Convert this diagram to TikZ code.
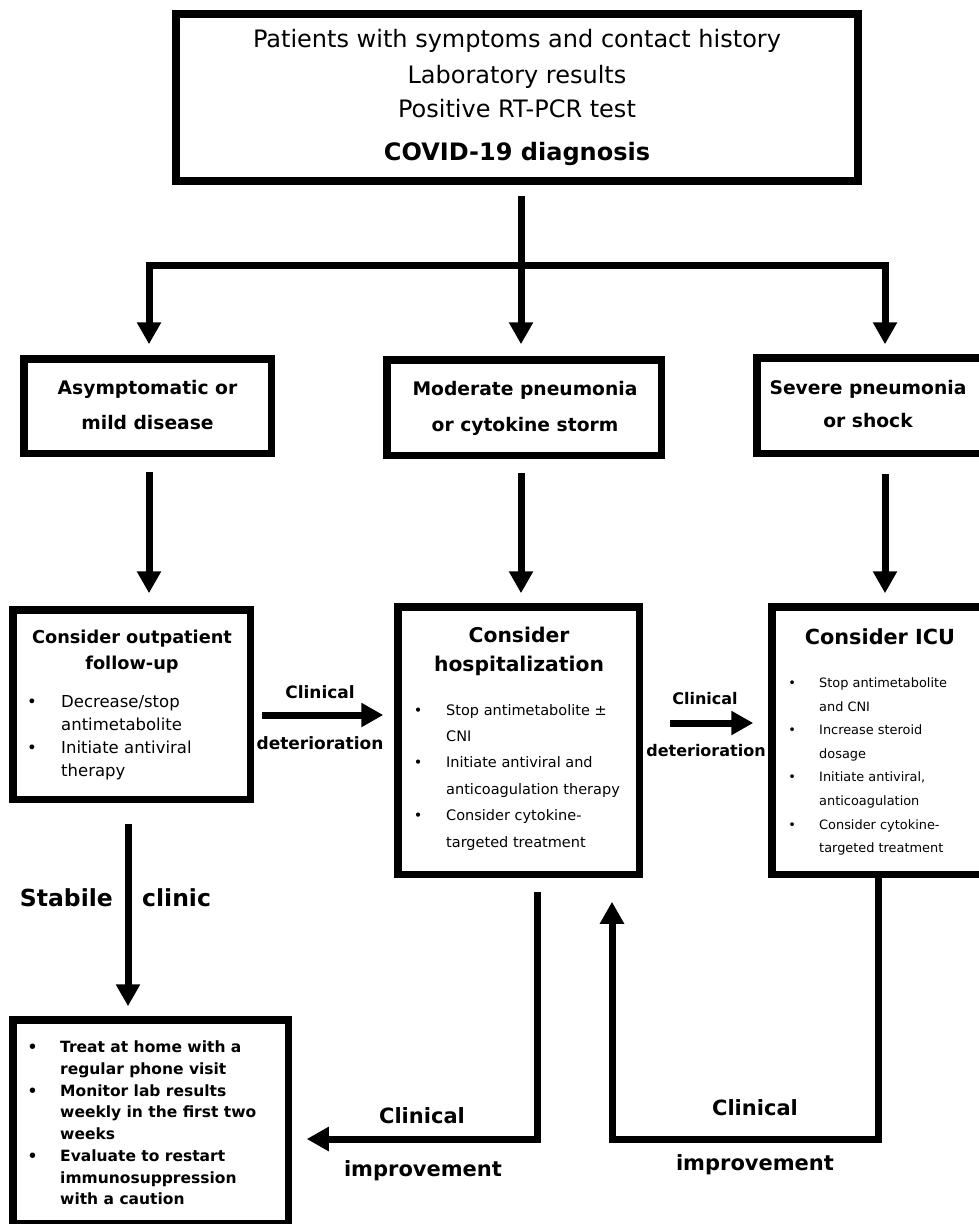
\documentclass[tikz,border=0pt]{standalone}
\usepackage{fontspec}
\setmainfont{DejaVu Sans}
\usetikzlibrary{arrows.meta}
\newcommand\bulx[1]{\llap{\makebox[#1][l]{\textbullet}}}
\newcommand\fs[2]{\fontsize{#1}{#2}\selectfont}
\tikzset{
  box/.style={draw=black, line width=7.5pt, inner sep=0pt},
  tip/.style={-{Triangle[length=22pt,width=23pt]}},
  twotip/.style={{Triangle[length=22pt,width=23pt]}-{Triangle[length=22pt,width=23pt]}},
  link/.style={line width=7pt, line join=miter, draw=black},
  txt/.style={inner sep=0pt, text=black},
  lab/.style={inner sep=0pt, text=black},
}
\begin{document}
\begin{tikzpicture}[x=1pt,y=-1pt]
\clip (0,0) rectangle (979,1224);
\fill[white] (0,0) rectangle (979,1224);
% boxes
\node[box, line width=8pt, minimum width=682pt, minimum height=167pt] (top) at (517,97.5) {};
\node[box, minimum width=247.5pt, minimum height=94.5pt] (b1) at (147.5,406) {};
\node[box, minimum width=274.5pt, minimum height=95.5pt] (b2) at (524,407.5) {};
\node[box, minimum width=225.5pt, minimum height=95.5pt] (b3) at (869.5,405.5) {};
\node[box, minimum width=237.5pt, minimum height=189.5pt] (c1) at (131.5,704.5) {};
\node[box, minimum width=241.5pt, minimum height=267.5pt] (c2) at (518.5,740.5) {};
\node[box, minimum width=214.5pt, minimum height=267.5pt] (c3) at (879,740.5) {};
\node[box, minimum width=275.5pt, minimum height=203.5pt] (d1) at (150.5,1121.5) {};
% top texts
\node[txt, anchor=base, font=\fs{24}{29}] (t1) at (517,47) {Patients with symptoms and contact history};
\node[txt, anchor=base, font=\fs{24}{29}] (t2) at (517,83) {Laboratory results};
\node[txt, anchor=base, font=\fs{24}{29}] (t3) at (517,117) {Positive RT-PCR test};
\node[txt, anchor=base, font=\fs{24}{29}\bfseries] (t4) at (517,160) {COVID-19 diagnosis};
% level 2 texts
\node[txt, align=center, font=\fs{18.7}{35}\bfseries] (b1t) at (147.5,405.5) {Asymptomatic or\\mild disease};
\node[txt, align=center, font=\fs{18.7}{36}\bfseries] (b2t) at (525,408) {Moderate pneumonia\\or cytokine storm};
\node[txt, align=center, font=\fs{18.7}{33}\bfseries] (b3t) at (868,404.5) {Severe pneumonia\\or shock};
% level 3 texts
\node[txt, align=center, font=\fs{17.75}{26}\bfseries] (c1t) at (132,652) {Consider outpatient\\follow-up};
\node[txt, align=center, font=\fs{20.3}{29}\bfseries] (c2t) at (519,651.5) {Consider\\hospitalization};
\node[txt, align=center, font=\fs{20.8}{29}\bfseries] (c3t) at (880,637) {Consider ICU};
\node[txt, align=left, anchor=west, font=\fs{16.5}{23}] (c1b) at (61,737.5)
  {\bulx{34pt}Decrease/stop\\antimetabolite\\\bulx{34pt}Initiate antiviral\\therapy};
\node[txt, align=left, anchor=west, font=\fs{14.5}{26.4}] (c2b) at (446,777)
  {\bulx{32.3pt}Stop antimetabolite ±\\CNI\\\bulx{32.3pt}Initiate antiviral and\\anticoagulation therapy\\\bulx{32.3pt}Consider cytokine-\\targeted treatment};
\node[txt, align=left, anchor=west, font=\fs{12.9}{23.6}] (c3b) at (819,766.5)
  {\bulx{30.8pt}Stop antimetabolite\\and CNI\\\bulx{30.8pt}Increase steroid\\dosage\\\bulx{30.8pt}Initiate antiviral,\\anticoagulation\\\bulx{30.8pt}Consider cytokine-\\targeted treatment};
\node[txt, align=left, anchor=west, font=\fs{15.5}{21.7}\bfseries] (d1b) at (60,1123)
  {\bulx{32.6pt}Treat at home with a\\regular phone visit\\\bulx{32.6pt}Monitor lab results\\weekly in the first two\\weeks\\\bulx{32.6pt}Evaluate to restart\\immunosuppression\\with a caution};
% coordinates
\coordinate (colL) at (149,265);
\coordinate (colM) at (521,265);
\coordinate (colR) at (885,265);
\coordinate (rowA) at (0,715);
\coordinate (rowB) at (0,723);
\coordinate (colS) at (128,0);
\coordinate (hx) at (537,1139);
\coordinate (ix) at (878,1139);
\coordinate (jx) at (612,1139);
% connectors
\draw[link, tip, shorten <=11pt, shorten >=11.75pt] (top.south -| colM) -- (b2.north -| colM);
\draw[link, twotip, shorten <=10.75pt, shorten >=9.75pt] (b1.north -| colL) -- (colL) -- (colR) -- (b3.north -| colR);
\draw[link, tip, shorten <=14.75pt, shorten >=12.75pt] (b1.south -| colL) -- (c1.north -| colL);
\draw[link, tip, shorten <=13.75pt, shorten >=9.75pt] (b2.south -| colM) -- (c2.north -| colM);
\draw[link, tip, shorten <=16.75pt, shorten >=9.75pt] (b3.south -| colR) -- (c3.north -| colR);
\draw[link, tip, shorten <=7.75pt, shorten >=10.75pt] (c1.east |- rowA) -- (c2.west |- rowA);
\draw[link, tip, shorten <=26.75pt, shorten >=14.75pt] (c2.east |- rowB) -- (c3.west |- rowB);
\draw[link, tip, shorten <=20.75pt, shorten >=9.75pt] (c1.south -| colS) -- (d1.north -| colS);
\draw[link, tip, shorten <=13.75pt, shorten >=14.75pt] (c2.south -| hx) -- (hx) -- (d1.east |- hx);
\draw[link, tip, shorten >=23.75pt] (c3.south -| ix) -- (ix) -- (jx) -- (c2.south -| jx);
% labels
\node[lab, font=\fs{17}{20}\bfseries] (cd1) at (320,692) {Clinical};
\node[lab, font=\fs{17}{20}\bfseries] (cd2) at (320,743) {deterioration};
\node[lab, font=\fs{16}{20}\bfseries] (cd3) at (705,699) {Clinical};
\node[lab, font=\fs{16}{20}\bfseries] (cd4) at (706,751) {deterioration};
\node[lab, font=\fs{21}{25}\bfseries] (ci1) at (422,1116) {Clinical};
\node[lab, anchor=mid, font=\fs{21}{25}\bfseries] (ci2) at (423,1174) {improvement};
\node[lab, font=\fs{21}{25}\bfseries] (ci3) at (755,1108) {Clinical};
\node[lab, anchor=mid, font=\fs{21}{25}\bfseries] (ci4) at (755,1168) {improvement};
\node[lab, anchor=east, font=\fs{23.5}{28}\bfseries] (sc1) at (113,898) {Stabile};
\node[lab, anchor=west, font=\fs{23.5}{28}\bfseries] (sc2) at (142,898) {clinic};
\end{tikzpicture}
\end{document}
